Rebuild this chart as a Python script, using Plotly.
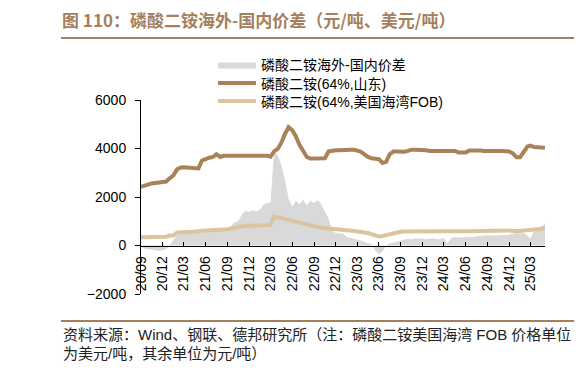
import pandas as pd
import plotly.graph_objects as go

# semi-monthly observation dates (1st and 16th of each month), 2020-09 .. 2025-05
months = pd.date_range("2020-09-01", "2025-05-01", freq="MS")
dates = []
for d in months:
    dates.append(d)
    if d < pd.Timestamp("2025-05-01"):
        dates.append(d + pd.Timedelta(days=15))

spread = [
    -50, -120, -150, -180, -200, -220, -200, -150, 50, 250, 420, 480,
    500, 520, 540, 500, 520, 560, 600, 620, 640, 600, 620, 640,
    660, 800, 960, 1000, 1300, 1420, 1380, 1450, 1400, 1480, 1700, 1750,
    1780, 3900, 3700, 3300, 2700, 1950, 1600, 1850, 1700, 1900, 1650, 1850,
    1750, 1880, 1700, 1400, 1100, 600, 520, 500, 480, 350, 300, 280,
    250, 200, 150, 100, 50, -200, -350, -250, 0, 80, 120, 150,
    220, 250, 280, 260, 300, 280, 300, 260, 280, 300, 260, 280,
    300, 100, 320, 340, 330, 350, 340, 360, 350, 380, 400, 410,
    420, 400, 420, 410, 430, 420, 450, 480, 520, 500, 520, 400,
    300, 600, 700, 800, 900,
]

shandong = [
    2420, 2470, 2500, 2560, 2580, 2600, 2610, 2640, 2780, 2900, 3150, 3220,
    3230, 3220, 3180, 3170, 3180, 3500, 3580, 3620, 3650, 3760, 3650, 3700,
    3700, 3700, 3710, 3700, 3700, 3700, 3690, 3700, 3700, 3700, 3700, 3700,
    3660, 3880, 3990, 4250, 4600, 4880, 4750, 4500, 4150, 3900, 3650, 3590,
    3590, 3590, 3590, 3600, 3880, 3920, 3930, 3930, 3950, 3960, 3950, 3950,
    3930, 3870, 3760, 3650, 3600, 3590, 3560, 3400, 3450, 3760, 3880, 3880,
    3870, 3870, 3900, 3950, 3950, 3950, 3940, 3930, 3900, 3900, 3920, 3940,
    3940, 3940, 3930, 3900, 3840, 3830, 3840, 3920, 3930, 3930, 3920, 3900,
    3910, 3920, 3910, 3900, 3900, 3890, 3880, 3800, 3640, 3640, 3880, 4080,
    4120, 4060, 4050, 4040, 4030,
]

us_gulf_fob = [
    340, 340, 340, 340, 345, 345, 350, 360, 410, 420, 540, 555,
    560, 565, 565, 570, 570, 610, 620, 625, 640, 650, 660, 665,
    670, 700, 740, 770, 790, 800, 810, 815, 820, 825, 830, 835,
    850, 1190, 1180, 1130, 1090, 1050, 1020, 980, 940, 910, 880, 840,
    790, 760, 730, 710, 690, 675, 665, 655, 645, 630, 620, 610,
    590, 560, 540, 515, 460, 420, 375, 390, 430, 470, 520, 550,
    565, 575, 580, 580, 585, 585, 585, 590, 585, 585, 590, 590,
    585, 580, 590, 590, 585, 590, 590, 590, 595, 600, 610, 620,
    620, 620, 620, 625, 620, 615, 620, 600, 585, 600, 620, 630,
    640, 640, 650, 670, 700,
]

names = ["磷酸二铵海外-国内价差", "磷酸二铵(64%,山东)", "磷酸二铵(64%,美国海湾FOB)"]
y_ticks = [-2000, 0, 2000, 4000, 6000]

title_text = "<b>图 110：磷酸二铵海外-国内价差（元/吨、美元/吨）</b>"
note1 = "资料来源：Wind、钢联、德邦研究所（注：磷酸二铵美国海湾 FOB 价格单位"
note2 = "为美元/吨，其余单位为元/吨）"

GRAY = "#D9D9D9"
BROWN = "#AA825A"
TAN = "#D9C59E"
TITLE_C = "#A67F5D"

FONT = "Liberation Sans, Arial, Noto Sans CJK SC, sans-serif"

fig = go.Figure()
fig.add_trace(go.Scatter(x=dates, y=spread, name=names[0], mode="lines",
                         fill="tozeroy", fillcolor=GRAY,
                         line=dict(width=0, color=GRAY), legend="legend",
                         showlegend=True))
fig.add_trace(go.Scatter(x=dates, y=shandong, name=names[1], mode="lines",
                         line=dict(width=4, color=BROWN), legend="legend2",
                         showlegend=True))
fig.add_trace(go.Scatter(x=dates, y=us_gulf_fob, name=names[2], mode="lines",
                         line=dict(width=4, color=TAN), legend="legend3",
                         showlegend=True))

# the page body has an 8px default margin: work in viewport pixels
OFF = 8
W, H = 582 - OFF, 371 - OFF
PL, PR, PT, PB = 141, 545, 100, 294          # plot area in viewport px
L, R, T, B = PL - OFF, W - (PR - OFF), PT - OFF, H - (PB - OFF)
pw, ph = PR - PL, PB - PT


def px_x(x):
    return (x - PL) / pw


def px_y(y):
    return (PB - y) / ph


leg_common = dict(xanchor="left", yanchor="middle", bgcolor="rgba(0,0,0,0)",
                  borderwidth=0, font=dict(size=14, color="#000", family=FONT),
                  itemwidth=38)

fig.update_layout(
    width=W, height=H,
    showlegend=True,
    margin=dict(l=L, r=R, t=T, b=B, autoexpand=False),
    paper_bgcolor="white", plot_bgcolor="white",
    font=dict(family=FONT, size=14, color="#000"),
    legend=dict(x=px_x(213), y=px_y(65), **leg_common),
    legend2=dict(x=px_x(213), y=px_y(83.5), **leg_common),
    legend3=dict(x=px_x(213), y=px_y(101.5), **leg_common),
    xaxis=dict(type="date", range=["2020-09-01", "2025-05-01"],
               anchor="free", position=0.25,
               tick0="2020-09-01", dtick="M3", tickformat="%y/%m",
               tickangle=-90, ticks="inside", ticklen=4, tickcolor="#000",
               showline=True, linecolor="#000", linewidth=1,
               showgrid=False, zeroline=False, automargin=False,
               ticklabelstandoff=4,
               tickfont=dict(size=14, color="#000", family=FONT)),
    yaxis=dict(range=[-2000, 6000], tickvals=y_ticks,
               ticks="outside", ticklen=5, tickcolor="#000",
               showline=True, linecolor="#000", linewidth=1,
               showgrid=False, zeroline=False, automargin=False,
               ticklabelstandoff=6,
               tickfont=dict(size=14, color="#000", family=FONT)),
    shapes=[
        dict(type="line", xref="paper", yref="paper",
             x0=px_x(61), x1=px_x(578), y0=px_y(38), y1=px_y(38),
             line=dict(color=TITLE_C, width=2)),
        dict(type="line", xref="paper", yref="paper",
             x0=px_x(61), x1=px_x(578), y0=px_y(321), y1=px_y(321),
             line=dict(color=TITLE_C, width=2)),
    ],
    annotations=[
        dict(text=title_text, xref="paper", yref="paper",
             x=px_x(61), y=px_y(20), xanchor="left", yanchor="middle",
             showarrow=False, borderpad=0,
             font=dict(size=17, color=TITLE_C, family="Noto Sans CJK SC, Liberation Sans")),
        dict(text=note1, xref="paper", yref="paper",
             x=px_x(61), y=px_y(334), xanchor="left", yanchor="middle",
             showarrow=False, font=dict(size=15, color="#222", family=FONT)),
        dict(text=note2, xref="paper", yref="paper",
             x=px_x(61), y=px_y(353), xanchor="left", yanchor="middle",
             showarrow=False, font=dict(size=15, color="#222", family=FONT)),
    ],
)

fig.write_html("out.html")
